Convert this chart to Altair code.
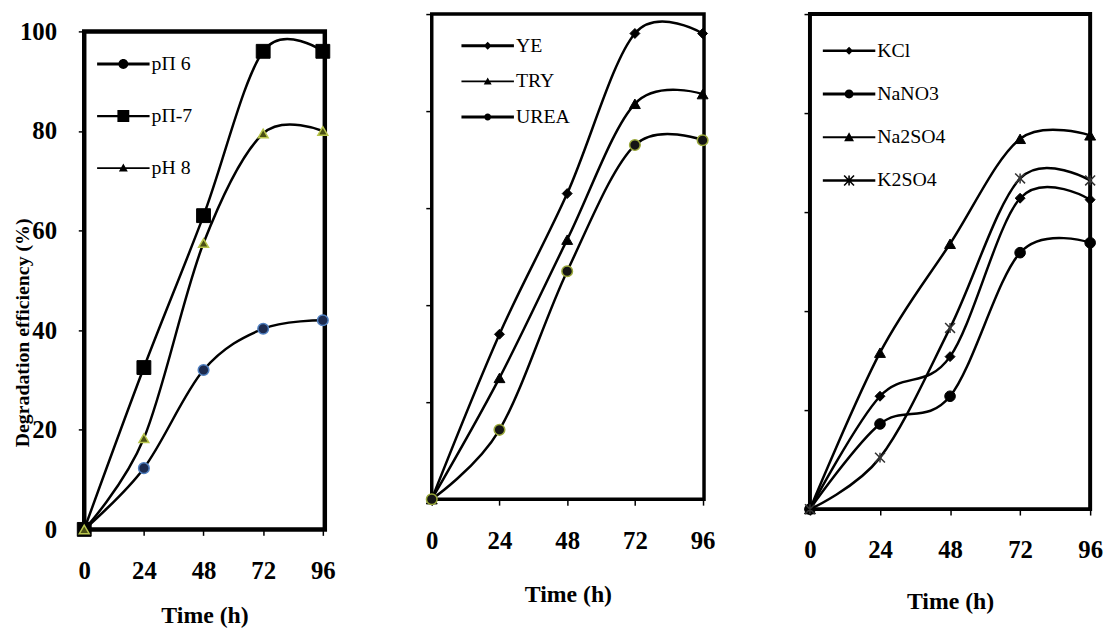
import math
import altair as alt
import pandas as pd

# ---------------- data ----------------
time_h = [0, 24, 48, 72, 96]
x_ticks = [0, 24, 48, 72, 96]
y_ticks = [0, 20, 40, 60, 80, 100]

ph_names = ["pΠ 6", "pΠ-7", "pH 8"]
ph_6 = [0, 12.3, 32.0, 40.3, 42.0]
ph_7 = [0, 32.5, 63.0, 96.0, 96.0]
ph_8 = [0, 18.3, 57.5, 79.5, 80.0]

n_names = ["YE", "TRY", "UREA"]
n_ye = [0, 34.0, 63.0, 96.0, 96.0]
n_try = [0, 25.0, 53.5, 81.5, 83.5]
n_urea = [0, 14.3, 47.0, 73.0, 74.0]

s_names = ["KCl", "NaNO3", "Na2SO4", "K2SO4"]
s_kcl = [0, 22.8, 30.8, 62.8, 62.5]
s_nano3 = [0, 17.2, 22.8, 51.8, 53.8]
s_na2so4 = [0, 31.6, 53.6, 74.8, 75.5]
s_k2so4 = [0, 10.4, 36.6, 66.8, 66.4]

# ---------------- styles ----------------
FONT = "Liberation Serif"
LEG_SIZE = 2809          # legend symbol box 53 px wide
HALF = 26.5              # px per path unit in the legend symbol


def u(px):
    return round(px / HALF, 4)


def f(v):
    return f"{round(v, 4)}"


def poly(pts):
    # force clockwise (screen) winding so that overlapping parts add up
    area = sum(pts[i][0] * pts[(i + 1) % len(pts)][1] - pts[(i + 1) % len(pts)][0] * pts[i][1]
               for i in range(len(pts)))
    if area < 0:
        pts = pts[::-1]
    return "M" + "L".join(f"{f(x)},{f(y)}" for x, y in pts) + "Z"


def line(t):
    t = u(t)
    return poly([(-1, -t), (1, -t), (1, t), (-1, t)])


def p_circle(r, t):
    r = u(r)
    return f"{line(t)}M{-r},0A{r},{r} 0 1,1 {r},0A{r},{r} 0 1,1 {-r},0Z"


def p_square(h, t):
    h = u(h)
    return line(t) + poly([(-h, -h), (h, -h), (h, h), (-h, h)])


def p_tri(h, t):
    h = u(h)
    b = 0.8 * h
    return line(t) + poly([(0, -h), (h, b), (-h, b)])


def p_diamond(h, t):
    h = u(h)
    return line(t) + poly([(0, -h), (h, 0), (0, h), (-h, 0)])


def bar(x0, y0, x1, y1, w):
    dx, dy = x1 - x0, y1 - y0
    ln = math.hypot(dx, dy)
    nx, ny = -dy / ln * w, dx / ln * w
    return poly([(x0 + nx, y0 + ny), (x1 + nx, y1 + ny), (x1 - nx, y1 - ny), (x0 - nx, y0 - ny)])


def p_star(h, t):
    h = u(h)
    w = u(0.8)
    return line(t) + bar(-h, -h, h, h, w) + bar(-h, h, h, -h, w) + bar(0, -h, 0, h, w)


ASTERISK = "M-1,-1L1,1M-1,1L1,-1M0,-1L0,1"

ph_style = {
    "pΠ 6": dict(shape="circle", size=115, fill="#1d2b4f", stroke="#4f7fc0", strokeWidth=1.5),
    "pΠ-7": dict(shape="square", size=196, fill="black", stroke="black", strokeWidth=1),
    "pH 8": dict(shape="triangle-up", size=100, fill="#4a4f14", stroke="#b9c64c", strokeWidth=1.5),
}
n_style = {
    "YE": dict(shape="diamond", size=100, fill="black", stroke="black", strokeWidth=1),
    "TRY": dict(shape="triangle-up", size=121, fill="black", stroke="black", strokeWidth=1),
    "UREA": dict(shape="circle", size=115, fill="#151515", stroke="#9aa83a", strokeWidth=1.5),
}
s_style = {
    "KCl": dict(shape="diamond", size=100, fill="black", stroke="black", strokeWidth=1),
    "NaNO3": dict(shape="circle", size=115, fill="black", stroke="black", strokeWidth=1),
    "Na2SO4": dict(shape="triangle-up", size=121, fill="black", stroke="black", strokeWidth=1),
    "K2SO4": dict(shape=ASTERISK, size=100, fill="black", stroke="#333333", strokeWidth=1.5),
}

ph_leg = [p_circle(5, 1.5), p_square(6, 1.1), p_tri(4.5, 0.9)]
n_leg = [p_diamond(4, 1.5), p_tri(4, 0.9), p_circle(3.5, 1.5)]
s_leg = [p_diamond(4, 1.3), p_circle(4.5, 1.5), p_tri(5, 1.0), p_star(5, 1.3)]


def make_panel(names, values, styles, legend_paths, width, height, xmax, frame,
               y_axis, x_label_pad, x_title_pad, leg_x, leg_y, leg_row_pad):
    rows = []
    for n, vals in zip(names, values):
        for t, v in zip(time_h, vals):
            rows.append({"time": t, "value": v, "series": n})
    df = pd.DataFrame(rows)
    x_enc = alt.X(
        "time:Q",
        scale=alt.Scale(domain=[0, xmax], nice=False, zero=False),
        axis=alt.Axis(values=x_ticks, title="Time (h)", format="d",
                      labelPadding=x_label_pad, titlePadding=x_title_pad),
    )
    y_enc = alt.Y("value:Q", scale=alt.Scale(domain=[0, 100], nice=False), axis=y_axis)
    base = alt.Chart(df).encode(x=x_enc, y=y_enc)
    ln = base.mark_line(interpolate="cardinal", color="black", strokeWidth=2.5).encode(
        detail="series:N")
    pts = [
        base.transform_filter(alt.datum.series == n).mark_point(filled=True, opacity=1, **styles[n])
        for n in names
    ]
    leg = base.transform_filter("false").mark_point(
        filled=True, fill="black", size=LEG_SIZE, opacity=1
    ).encode(
        shape=alt.Shape(
            "series:N",
            scale=alt.Scale(domain=names, range=legend_paths),
            legend=alt.Legend(
                title=None, orient="none", legendX=leg_x, legendY=leg_y, padding=0,
                labelFont=FONT, labelFontSize=20, labelColor="black", labelOffset=1,
                labelFontWeight="normal",
                symbolSize=LEG_SIZE, symbolFillColor="black",
                symbolOpacity=1, clipHeight=20, rowPadding=leg_row_pad,
            ),
        )
    )
    return alt.layer(ln, *pts, leg).properties(
        width=width, height=height,
        view=alt.ViewBackground(stroke="black", strokeWidth=frame),
    )


y_axis_1 = alt.Axis(values=y_ticks, title="Degradation efficiency (%)", labelPadding=22,
                    titleX=-62, titleY=304, titleBaseline="middle", titleAlign="center",
                    titleAngle=270, titleFontSize=20)
y_axis_2 = alt.Axis(values=y_ticks, labels=False, title=None)
y_axis_3 = alt.Axis(values=y_ticks, labels=False, title=None)

p1 = make_panel(ph_names, [ph_6, ph_7, ph_8], ph_style, ph_leg, 243, 503, 96.8, 4.5,
                y_axis_1, 24, 20, 12, 23, 32.5)
p2 = make_panel(n_names, [n_ye, n_try, n_urea], n_style, n_leg, 275, 490, 96.5, 3.5,
                y_axis_2, 24, 29, 29, 22, 16)
p3 = make_panel(s_names, [s_kcl, s_nano3, s_na2so4, s_k2so4], s_style, s_leg, 283, 500, 96, 4,
                y_axis_3, 23, 27, 12, 27, 23.7)

spacer = (
    alt.Chart(pd.DataFrame({"a": [0]}))
    .transform_filter("false")
    .mark_point()
    .properties(width=243, height=1, view=alt.ViewBackground(stroke="transparent", strokeWidth=0))
)

left_col = alt.vconcat(spacer, p1, spacing=1.5).resolve_scale(shape="independent")

chart = (
    alt.hconcat(left_col, p2, p3, spacing=84)
    .resolve_scale(shape="independent")
    .properties(padding={"left": 2, "top": 0, "right": 0, "bottom": 0}, background="white")
    .configure_axis(
        labelFont=FONT, labelFontSize=25, labelFontWeight="bold", labelColor="black",
        titleFont=FONT, titleFontSize=24, titleFontWeight="bold", titleColor="black",
        tickColor="black", tickWidth=1.5, tickSize=6, domain=False, grid=False,
        labelFlush=False,
    )
)

chart.save("out.html", embed_options={"renderer": "svg", "actions": False})
